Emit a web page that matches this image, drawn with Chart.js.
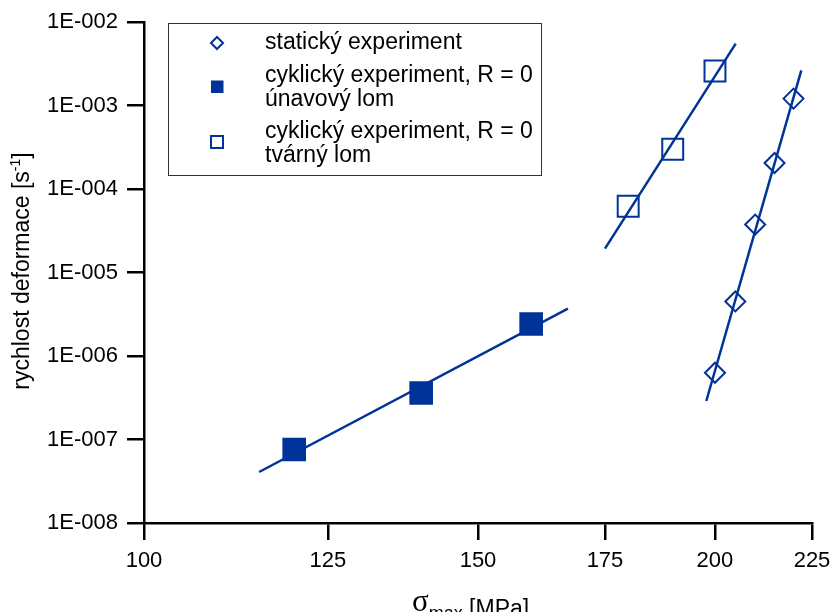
<!DOCTYPE html>
<html>
<head>
<meta charset="utf-8">
<script src="https://cdn.jsdelivr.net/npm/chart.js@4.4.1/dist/chart.umd.min.js"></script>
<style>
  html, body { margin: 0; padding: 0; background: #fff; }
  #wrap { width: 832px; height: 612px; }
</style>
</head>
<body>
<div id="wrap"><canvas id="mainCanvas" width="832" height="612"></canvas></div>
<script>
// sigma_max [MPa] vs. strain rate [1/s]
const staticX = [200, 205, 210, 215, 220];
const staticY = [6.3e-7, 4.5e-6, 3.75e-5, 2.05e-4, 1.21e-3];
const fatigueX = [120, 140, 160];
const fatigueY = [7.6e-8, 3.6e-7, 2.42e-6];
const ductileX = [180, 190, 200];
const ductileY = [6.2e-5, 3.0e-4, 2.59e-3];

// fitted lines (end points)
const staticFitX = [197.9, 222.1];
const staticFitY = [2.89e-7, 2.64e-3];
const fatigueFitX = [115, 167.3];
const fatigueFitY = [4.08e-8, 3.7e-6];
const ductileFitX = [175, 205.1];
const ductileFitY = [1.93e-5, 5.5e-3];

const xTicks = [100, 125, 150, 175, 200, 225];
const yTicks = [1e-2, 1e-3, 1e-4, 1e-5, 1e-6, 1e-7, 1e-8];

const legendLabels = [
    ['statický experiment'],
    ['cyklický experiment, R = 0', 'únavový lom'],
    ['cyklický experiment, R = 0', 'tvárný lom']
];

const blue = '#003399';
const fontName = '"Liberation Sans", Arial, sans-serif';

function toPoints(xs, ys) {
    return xs.map((x, i) => ({ x: x, y: ys[i] }));
}

function markerSet(xs, ys, style, radius, fill) {
    return {
        data: toPoints(xs, ys),
        showLine: false,
        pointStyle: style,
        pointRadius: radius,
        pointHoverRadius: radius,
        pointBorderWidth: 2,
        pointBorderColor: blue,
        pointBackgroundColor: fill,
    };
}

function fitLine(xs, ys) {
    return {
        data: toPoints(xs, ys),
        showLine: true,
        borderColor: blue,
        borderWidth: 2.5,
        pointRadius: 0,
    };
}

// legend box and axis titles are drawn by hand
const extras = {
    id: 'extras',
    afterDraw(chart) {
        const c = chart.ctx;
        c.save();

        // legend
        c.strokeStyle = '#333';
        c.lineWidth = 1;
        c.strokeRect(168.5, 23.5, 373, 152);

        c.strokeStyle = blue;
        c.lineWidth = 2;
        const mx = 217;
        // diamond
        c.beginPath();
        c.moveTo(mx, 37); c.lineTo(mx + 6, 43); c.lineTo(mx, 49); c.lineTo(mx - 6, 43);
        c.closePath();
        c.stroke();
        // filled square
        c.fillStyle = blue;
        c.fillRect(mx - 6, 80.5, 12.5, 12.5);
        // open square
        c.strokeRect(mx - 6, 136, 12, 12);

        c.fillStyle = '#000';
        c.font = '23px ' + fontName;
        c.textAlign = 'left';
        c.textBaseline = 'alphabetic';
        const baselines = [[49], [82, 105.5], [138, 161.5]];
        legendLabels.forEach((lines, i) => {
            lines.forEach((t, j) => c.fillText(t, 265, baselines[i][j]));
        });

        // y title with superscript
        c.save();
        c.translate(29, 271);
        c.rotate(-Math.PI / 2);
        const mainFont = '23px ' + fontName;
        const supFont = '14px ' + fontName;
        c.font = mainFont;
        const a = 'rychlost deformace [s';
        const wa = c.measureText(a).width;
        c.font = supFont;
        const wb = c.measureText('-1').width;
        c.font = mainFont;
        const wc = c.measureText(']').width;
        let x0 = -(wa + wb + wc) / 2;
        c.fillText(a, x0, 0);
        c.font = supFont;
        c.fillText('-1', x0 + wa, -9);
        c.font = mainFont;
        c.fillText(']', x0 + wa + wb, 0);
        c.restore();

        // x title with subscript
        let xt = 412;
        c.font = '31px "Liberation Serif", serif';
        c.fillText('σ', xt, 611);
        xt += c.measureText('σ').width;
        c.font = '18px ' + fontName;
        c.fillText('max', xt, 619);
        xt += c.measureText('max').width;
        c.font = '23px ' + fontName;
        c.fillText(' [MPa]', xt, 616);

        c.restore();
    }
};

const ctx = document.getElementById('mainCanvas').getContext('2d');

new Chart(ctx, {
    type: 'scatter',
    data: {
        datasets: [
            markerSet(staticX, staticY, 'rectRot', 10, 'rgba(0,0,0,0)'),
            markerSet(fatigueX, fatigueY, 'rect', 15.3, blue),
            markerSet(ductileX, ductileY, 'rect', 14.8, 'rgba(0,0,0,0)'),
            fitLine(staticFitX, staticFitY),
            fitLine(fatigueFitX, fatigueFitY),
            fitLine(ductileFitX, ductileFitY),
        ]
    },
    options: {
        responsive: false,
        animation: false,
        devicePixelRatio: 1,
        layout: { padding: { top: 22, right: 20, left: 0, bottom: 0 } },
        plugins: {
            legend: { display: false },
            tooltip: { enabled: false },
        },
        scales: {
            x: {
                type: 'logarithmic',
                min: 100,
                max: 225,
                afterBuildTicks: scale => { scale.ticks = xTicks.map(v => ({ value: v })); },
                afterFit: scale => {
                    scale.height = 89;
                    scale.paddingLeft = 0;
                    scale.paddingRight = 0;
                },
                border: { display: true, color: '#000', width: 2.5 },
                grid: { drawOnChartArea: false, drawTicks: true, tickLength: 17, color: '#000', lineWidth: 2.5 },
                ticks: {
                    autoSkip: false,
                    maxRotation: 0,
                    padding: 8,
                    color: '#000',
                    font: { family: fontName, size: 22 },
                    callback: v => String(v),
                },
            },
            y: {
                type: 'logarithmic',
                min: 1e-8,
                max: 1e-2,
                afterBuildTicks: scale => { scale.ticks = yTicks.map(v => ({ value: v })); },
                afterFit: scale => {
                    scale.width = 144;
                    scale.paddingTop = 0;
                    scale.paddingBottom = 0;
                },
                border: { display: true, color: '#000', width: 2.5 },
                grid: { drawOnChartArea: false, drawTicks: true, tickLength: 17, color: '#000', lineWidth: 2.5 },
                ticks: {
                    autoSkip: false,
                    padding: 9,
                    color: '#000',
                    font: { family: fontName, size: 22 },
                    callback: v => '1E-' + String(-Math.round(Math.log10(v))).padStart(3, '0'),
                },
            },
        },
    },
    plugins: [extras],
});
</script>
</body>
</html>
